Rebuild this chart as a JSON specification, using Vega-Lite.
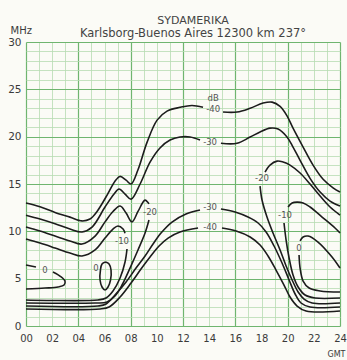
{
  "$schema": "https://vega.github.io/schema/vega-lite/v6.json",
  "width": 314,
  "height": 284,
  "autosize": {"type": "none"},
  "padding": {"left": 26, "top": 42, "right": 7, "bottom": 34},
  "background": "#fbfbf6",
  "title": {
    "text": "SYDAMERIKA",
    "subtitle": "Karlsborg-Buenos Aires  12300 km  237°",
    "anchor": "middle",
    "dx": 10,
    "offset": -14,
    "fontSize": 11,
    "fontWeight": "normal",
    "font": "DejaVu Sans",
    "color": "#444444",
    "subtitleFontSize": 11.5,
    "subtitleColor": "#444444",
    "subtitleFont": "DejaVu Sans",
    "subtitlePadding": 2
  },
  "datasets": {
    "curves": [
      {"c":"U40a","i":0,"t":0,"f":13.0},{"c":"U40a","i":1,"t":1.07,"f":12.6},{"c":"U40a","i":2,"t":2.22,"f":12.0},{"c":"U40a","i":3,"t":3.36,"f":11.5},{"c":"U40a","i":4,"t":4.28,"f":11.1},{"c":"U40a","i":5,"t":4.89,"f":11.3},{"c":"U40a","i":6,"t":5.43,"f":12.1},{"c":"U40a","i":7,"t":6.27,"f":14.0},{"c":"U40a","i":8,"t":6.8,"f":15.3},{"c":"U40a","i":9,"t":7.19,"f":15.8},{"c":"U40a","i":10,"t":7.65,"f":15.4},{"c":"U40a","i":11,"t":8.03,"f":15.0},{"c":"U40a","i":12,"t":8.56,"f":16.5},{"c":"U40a","i":13,"t":9.25,"f":19.4},{"c":"U40a","i":14,"t":10.02,"f":21.75},{"c":"U40a","i":15,"t":10.78,"f":22.7},{"c":"U40a","i":16,"t":11.77,"f":23.1},{"c":"U40a","i":17,"t":12.69,"f":23.3},{"c":"U40a","i":18,"t":13.53,"f":23.1},
      {"c":"U40b","i":0,"t":15.06,"f":22.6},{"c":"U40b","i":1,"t":16.13,"f":22.6},{"c":"U40b","i":2,"t":17.13,"f":23.0},{"c":"U40b","i":3,"t":18.12,"f":23.55},{"c":"U40b","i":4,"t":18.81,"f":23.65},{"c":"U40b","i":5,"t":19.42,"f":23.2},{"c":"U40b","i":6,"t":19.95,"f":22.2},{"c":"U40b","i":7,"t":20.41,"f":20.9},{"c":"U40b","i":8,"t":21.18,"f":18.9},{"c":"U40b","i":9,"t":21.94,"f":17.0},{"c":"U40b","i":10,"t":22.71,"f":15.5},{"c":"U40b","i":11,"t":23.47,"f":14.6},{"c":"U40b","i":12,"t":24,"f":14.15},
      {"c":"U30a","i":0,"t":0,"f":11.7},{"c":"U30a","i":1,"t":1.07,"f":11.3},{"c":"U30a","i":2,"t":2.22,"f":10.8},{"c":"U30a","i":3,"t":3.36,"f":10.24},{"c":"U30a","i":4,"t":4.28,"f":9.93},{"c":"U30a","i":5,"t":5.05,"f":10.45},{"c":"U30a","i":6,"t":6.04,"f":12.57},{"c":"U30a","i":7,"t":6.73,"f":13.94},{"c":"U30a","i":8,"t":7.11,"f":14.47},{"c":"U30a","i":9,"t":7.57,"f":13.94},{"c":"U30a","i":10,"t":8.03,"f":13.4},{"c":"U30a","i":11,"t":8.72,"f":15.0},{"c":"U30a","i":12,"t":9.48,"f":17.3},{"c":"U30a","i":13,"t":10.24,"f":18.8},{"c":"U30a","i":14,"t":11.01,"f":19.64},{"c":"U30a","i":15,"t":11.77,"f":19.96},{"c":"U30a","i":16,"t":12.54,"f":19.96},{"c":"U30a","i":17,"t":13.3,"f":19.64},
      {"c":"U30b","i":0,"t":14.9,"f":19.3},{"c":"U30b","i":1,"t":16.13,"f":19.3},{"c":"U30b","i":2,"t":17.13,"f":19.96},{"c":"U30b","i":3,"t":17.89,"f":20.5},{"c":"U30b","i":4,"t":18.65,"f":20.9},{"c":"U30b","i":5,"t":19.27,"f":20.8},{"c":"U30b","i":6,"t":19.95,"f":19.96},{"c":"U30b","i":7,"t":20.41,"f":18.9},{"c":"U30b","i":8,"t":20.95,"f":17.5},{"c":"U30b","i":9,"t":21.71,"f":15.6},{"c":"U30b","i":10,"t":22.48,"f":14.15},{"c":"U30b","i":11,"t":23.24,"f":13.2},{"c":"U30b","i":12,"t":24,"f":12.67},
      {"c":"L20a","i":0,"t":0,"f":10.45},{"c":"L20a","i":1,"t":1.07,"f":10.03},{"c":"L20a","i":2,"t":2.22,"f":9.5},{"c":"L20a","i":3,"t":3.36,"f":8.98},{"c":"L20a","i":4,"t":4.28,"f":8.66},{"c":"L20a","i":5,"t":5.28,"f":9.5},{"c":"L20a","i":6,"t":6.04,"f":11.0},{"c":"L20a","i":7,"t":6.65,"f":12.1},{"c":"L20a","i":8,"t":7.19,"f":12.67},{"c":"L20a","i":9,"t":7.65,"f":11.93},{"c":"L20a","i":10,"t":8.1,"f":11.0},{"c":"L20a","i":11,"t":8.56,"f":12.1},{"c":"L20a","i":12,"t":9.1,"f":13.3},{"c":"L20a","i":13,"t":9.4,"f":12.9},
      {"c":"L20b","i":0,"t":9.4,"f":11.19},{"c":"L20b","i":1,"t":9.1,"f":9.82},{"c":"L20b","i":2,"t":8.56,"f":8.03},{"c":"L20b","i":3,"t":7.95,"f":6.12},{"c":"L20b","i":4,"t":7.34,"f":4.33},{"c":"L20b","i":5,"t":6.8,"f":3.17},{"c":"L20b","i":6,"t":6.19,"f":2.53},{"c":"L20b","i":7,"t":5.28,"f":2.43},{"c":"L20b","i":8,"t":0,"f":2.43},
      {"c":"L10a","i":0,"t":0,"f":9.19},{"c":"L10a","i":1,"t":1.07,"f":8.76},{"c":"L10a","i":2,"t":2.22,"f":8.24},{"c":"L10a","i":3,"t":3.36,"f":7.71},{"c":"L10a","i":4,"t":4.28,"f":7.39},{"c":"L10a","i":5,"t":5.28,"f":8.03},{"c":"L10a","i":6,"t":6.04,"f":9.29},{"c":"L10a","i":7,"t":6.65,"f":10.24},{"c":"L10a","i":8,"t":7.03,"f":10.56},{"c":"L10a","i":9,"t":7.42,"f":10.24},{"c":"L10a","i":10,"t":7.57,"f":9.8},
      {"c":"L10b","i":0,"t":7.72,"f":8.13},{"c":"L10b","i":1,"t":7.57,"f":6.76},{"c":"L10b","i":2,"t":7.19,"f":5.07},{"c":"L10b","i":3,"t":6.65,"f":3.7},{"c":"L10b","i":4,"t":6.12,"f":2.96},{"c":"L10b","i":5,"t":5.5,"f":2.75},{"c":"L10b","i":6,"t":0,"f":2.75},
      {"c":"L0a","i":0,"t":0,"f":6.44},{"c":"L0a","i":1,"t":0.76,"f":6.23},
      {"c":"L0b","i":0,"t":2.06,"f":5.7},{"c":"L0b","i":1,"t":2.6,"f":5.28},{"c":"L0b","i":2,"t":2.98,"f":4.75},{"c":"L0b","i":3,"t":2.91,"f":4.33},{"c":"L0b","i":4,"t":2.45,"f":4.12},{"c":"L0b","i":5,"t":1.45,"f":4.01},{"c":"L0b","i":6,"t":0,"f":3.91},
      {"c":"oval","i":0,"t":6.08,"f":6.76},{"c":"oval","i":1,"t":6.35,"f":6.55},{"c":"oval","i":2,"t":6.5,"f":5.91},{"c":"oval","i":3,"t":6.46,"f":4.86},{"c":"oval","i":4,"t":6.27,"f":4.12},{"c":"oval","i":5,"t":6.04,"f":3.8},{"c":"oval","i":6,"t":5.81,"f":4.12},{"c":"oval","i":7,"t":5.66,"f":4.86},{"c":"oval","i":8,"t":5.69,"f":5.91},{"c":"oval","i":9,"t":5.81,"f":6.55},{"c":"oval","i":10,"t":6.08,"f":6.76},
      {"c":"LO30a","i":0,"t":0,"f":2.11},{"c":"LO30a","i":1,"t":5.5,"f":2.11},{"c":"LO30a","i":2,"t":6.12,"f":2.32},{"c":"LO30a","i":3,"t":6.8,"f":3.27},{"c":"LO30a","i":4,"t":7.65,"f":4.65},{"c":"LO30a","i":5,"t":8.41,"f":6.12},{"c":"LO30a","i":6,"t":9.1,"f":7.39},{"c":"LO30a","i":7,"t":9.71,"f":8.66},{"c":"LO30a","i":8,"t":10.32,"f":9.82},{"c":"LO30a","i":9,"t":11.16,"f":10.98},{"c":"LO30a","i":10,"t":12.23,"f":11.83},{"c":"LO30a","i":11,"t":13.3,"f":12.25},
      {"c":"LO30b","i":0,"t":14.9,"f":12.36},{"c":"LO30b","i":1,"t":15.98,"f":12.04},{"c":"LO30b","i":2,"t":16.97,"f":11.51},{"c":"LO30b","i":3,"t":17.74,"f":10.88},{"c":"LO30b","i":4,"t":18.35,"f":9.93},{"c":"LO30b","i":5,"t":18.96,"f":8.45},{"c":"LO30b","i":6,"t":19.57,"f":6.65},{"c":"LO30b","i":7,"t":20.11,"f":4.86},{"c":"LO30b","i":8,"t":20.57,"f":3.38},{"c":"LO30b","i":9,"t":21.02,"f":2.43},{"c":"LO30b","i":10,"t":21.71,"f":2.01},{"c":"LO30b","i":11,"t":24,"f":2.01},
      {"c":"LO40a","i":0,"t":0,"f":1.8},{"c":"LO40a","i":1,"t":5.66,"f":1.8},{"c":"LO40a","i":2,"t":6.35,"f":2.01},{"c":"LO40a","i":3,"t":7.19,"f":3.06},{"c":"LO40a","i":4,"t":8.03,"f":4.54},{"c":"LO40a","i":5,"t":8.79,"f":6.02},{"c":"LO40a","i":6,"t":9.48,"f":7.29},{"c":"LO40a","i":7,"t":10.17,"f":8.45},{"c":"LO40a","i":8,"t":10.86,"f":9.29},{"c":"LO40a","i":9,"t":11.77,"f":9.93},{"c":"LO40a","i":10,"t":13.15,"f":10.35},
      {"c":"LO40b","i":0,"t":14.98,"f":10.35},{"c":"LO40b","i":1,"t":16.06,"f":10.03},{"c":"LO40b","i":2,"t":17.13,"f":9.4},{"c":"LO40b","i":3,"t":17.89,"f":8.55},{"c":"LO40b","i":4,"t":18.5,"f":7.39},{"c":"LO40b","i":5,"t":19.11,"f":5.91},{"c":"LO40b","i":6,"t":19.72,"f":4.33},{"c":"LO40b","i":7,"t":20.18,"f":3.06},{"c":"LO40b","i":8,"t":20.72,"f":2.11},{"c":"LO40b","i":9,"t":21.41,"f":1.58},{"c":"LO40b","i":10,"t":24,"f":1.58},
      {"c":"R20a","i":0,"t":24,"f":11.72},{"c":"R20a","i":1,"t":23.24,"f":12.57},{"c":"R20a","i":2,"t":22.48,"f":13.73},{"c":"R20a","i":3,"t":21.71,"f":15.0},{"c":"R20a","i":4,"t":20.95,"f":16.16},{"c":"R20a","i":5,"t":20.18,"f":17.0},{"c":"R20a","i":6,"t":19.65,"f":17.32},{"c":"R20a","i":7,"t":19.19,"f":17.42},{"c":"R20a","i":8,"t":18.65,"f":17.0},{"c":"R20a","i":9,"t":18.27,"f":16.26},
      {"c":"R20b","i":0,"t":17.89,"f":14.78},{"c":"R20b","i":1,"t":18.04,"f":13.31},{"c":"R20b","i":2,"t":18.42,"f":11.51},{"c":"R20b","i":3,"t":18.88,"f":9.82},{"c":"R20b","i":4,"t":19.42,"f":8.03},{"c":"R20b","i":5,"t":19.88,"f":6.34},{"c":"R20b","i":6,"t":20.34,"f":4.86},{"c":"R20b","i":7,"t":20.8,"f":3.59},{"c":"R20b","i":8,"t":21.25,"f":2.85},{"c":"R20b","i":9,"t":21.87,"f":2.43},{"c":"R20b","i":10,"t":24,"f":2.43},
      {"c":"R10a","i":0,"t":24,"f":9.82},{"c":"R10a","i":1,"t":23.62,"f":10.35},{"c":"R10a","i":2,"t":22.63,"f":11.51},{"c":"R10a","i":3,"t":21.71,"f":12.57},{"c":"R10a","i":4,"t":21.18,"f":13.0},{"c":"R10a","i":5,"t":20.72,"f":13.09},{"c":"R10a","i":6,"t":20.34,"f":13.0},{"c":"R10a","i":7,"t":20.03,"f":12.57},
      {"c":"R10b","i":0,"t":19.72,"f":10.88},{"c":"R10b","i":1,"t":19.88,"f":9.08},{"c":"R10b","i":2,"t":20.11,"f":7.18},{"c":"R10b","i":3,"t":20.41,"f":5.39},{"c":"R10b","i":4,"t":20.8,"f":4.12},{"c":"R10b","i":5,"t":21.33,"f":3.27},{"c":"R10b","i":6,"t":22.09,"f":2.96},{"c":"R10b","i":7,"t":24,"f":2.96},
      {"c":"R0a","i":0,"t":24,"f":6.12},{"c":"R0a","i":1,"t":23.39,"f":7.29},{"c":"R0a","i":2,"t":22.32,"f":8.87},{"c":"R0a","i":3,"t":21.56,"f":9.5},{"c":"R0a","i":4,"t":21.18,"f":9.4},{"c":"R0a","i":5,"t":20.95,"f":8.98},
      {"c":"R0b","i":0,"t":20.87,"f":7.5},{"c":"R0b","i":1,"t":20.95,"f":6.12},{"c":"R0b","i":2,"t":21.18,"f":4.75},{"c":"R0b","i":3,"t":21.64,"f":4.01},{"c":"R0b","i":4,"t":22.48,"f":3.7},{"c":"R0b","i":5,"t":24,"f":3.59}
    ],
    "labels": [
      {"t":14.3,"f":24.1,"txt":"dB"},
      {"t":14.3,"f":22.9,"txt":"-40"},
      {"t":14.07,"f":19.43,"txt":"-30"},
      {"t":9.48,"f":12.04,"txt":"-20"},
      {"t":7.34,"f":8.98,"txt":"-10"},
      {"t":1.45,"f":5.91,"txt":"0"},
      {"t":5.35,"f":6.12,"txt":"0"},
      {"t":14.07,"f":12.57,"txt":"-30"},
      {"t":14.07,"f":10.45,"txt":"-40"},
      {"t":18.04,"f":15.63,"txt":"-20"},
      {"t":19.8,"f":11.72,"txt":"-10"},
      {"t":20.87,"f":8.24,"txt":"0"}
    ]
  },
  "encoding": {
    "x": {
      "field": "t", "type": "quantitative",
      "scale": {"domain": [0, 24], "nice": false, "zero": false},
      "axis": {
        "values": [0,1,2,3,4,5,6,7,8,9,10,11,12,13,14,15,16,17,18,19,20,21,22,23,24],
        "labelExpr": "datum.value % 2 === 0 ? (datum.value < 10 ? '0' + datum.value : '' + datum.value) : ''",
        "labelOverlap": false, "labelFlush": false,
        "domain": false, "ticks": false,
        "labelFontSize": 10, "labelColor": "#3a3a3a", "labelPadding": 7, "labelFont": "DejaVu Sans",
        "gridColor": {"condition": {"test": "datum.value % 4 === 0", "value": "#6fb56f"}, "value": "#b8dcb2"},
        "gridWidth": {"condition": {"test": "datum.value % 4 === 0", "value": 1.2}, "value": 0.8},
        "title": "GMT", "titleX": 319, "titleY": 30, "titleAlign": "right", "titleBaseline": "alphabetic",
        "titleFontSize": 8, "titleFontWeight": "normal", "titleColor": "#3a3a3a", "titleFont": "DejaVu Sans"
      }
    },
    "y": {
      "field": "f", "type": "quantitative",
      "scale": {"domain": [0, 30], "nice": false, "zero": true},
      "axis": {
        "values": [0,1,2,3,4,5,6,7,8,9,10,11,12,13,14,15,16,17,18,19,20,21,22,23,24,25,26,27,28,29,30],
        "labelExpr": "datum.value % 5 === 0 ? datum.label : ''",
        "labelOverlap": false, "labelFlush": false,
        "domain": false, "ticks": false,
        "labelFontSize": 10.5, "labelColor": "#3a3a3a", "labelPadding": 5, "labelFont": "DejaVu Sans",
        "gridColor": {"condition": {"test": "datum.value % 5 === 0", "value": "#6fb56f"}, "value": "#b8dcb2"},
        "gridWidth": {"condition": {"test": "datum.value % 5 === 0", "value": 1.2}, "value": 0.8},
        "title": "MHz", "titleAngle": 0, "titleX": -16, "titleY": -9, "titleAlign": "left", "titleBaseline": "alphabetic",
        "titleFontSize": 10, "titleFontWeight": "normal", "titleColor": "#3a3a3a", "titleFont": "DejaVu Sans"
      }
    }
  },
  "layer": [
    {
      "data": {"name": "curves"},
      "mark": {"type": "line", "interpolate": "catmull-rom", "color": "#1c1c1c", "strokeWidth": 1.6},
      "encoding": {
        "detail": {"field": "c", "type": "nominal"},
        "order": {"field": "i", "type": "quantitative"}
      }
    },
    {
      "data": {"name": "labels"},
      "mark": {"type": "text", "fontSize": 8.5, "color": "#555555", "font": "DejaVu Sans"},
      "encoding": {
        "text": {"field": "txt", "type": "nominal"}
      }
    }
  ],
  "config": {"view": {"stroke": null}}
}
